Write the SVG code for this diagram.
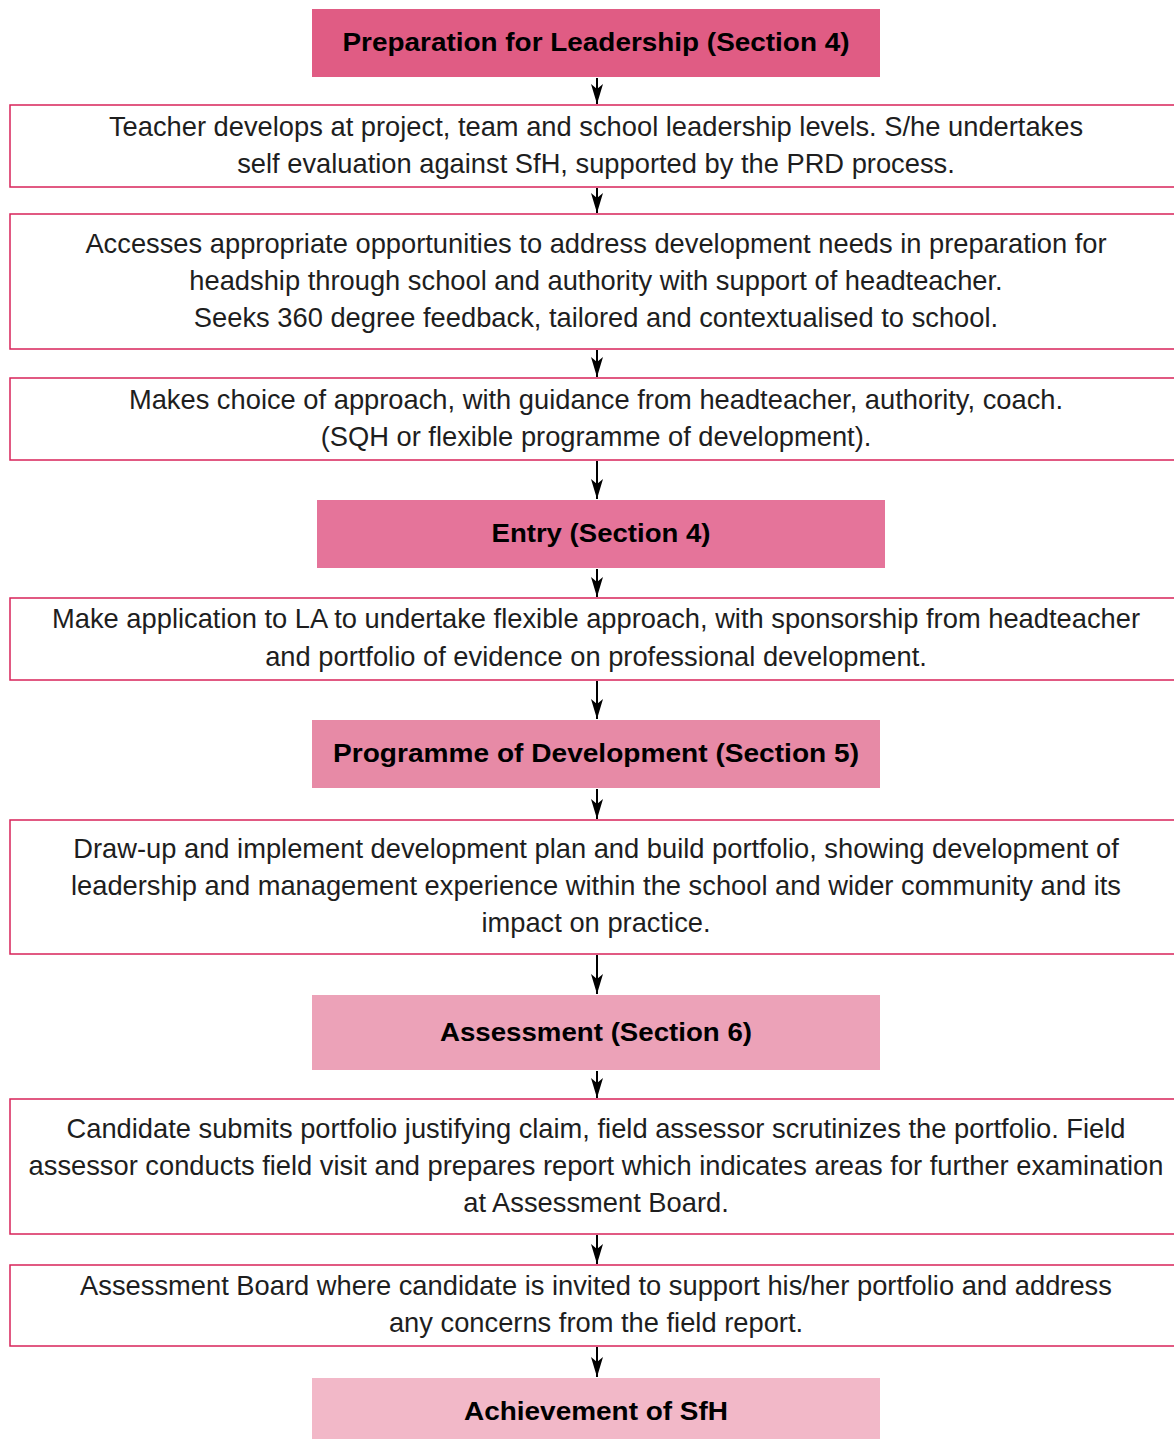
<svg xmlns="http://www.w3.org/2000/svg" width="1174" height="1439" viewBox="0 0 1174 1439">
<style>
.box{fill:#ffffff;stroke:#d8235a;stroke-width:1.5}
.t{font-family:"Liberation Sans",Arial,sans-serif;font-size:27.3px;fill:#1e1e1e;text-anchor:middle}
.h{font-family:"Liberation Sans",Arial,sans-serif;font-size:26px;font-weight:bold;fill:#000;text-anchor:middle}
.c{stroke:#000;stroke-width:2;fill:none}
</style>
<defs>
<marker id="ah" markerUnits="userSpaceOnUse" markerWidth="22" markerHeight="14" refX="20" refY="7" orient="auto" viewBox="0 0 22 14">
<path d="M0,1 L20,7 L0,13 L5,7 Z" fill="#000"/>
</marker>
</defs>
<rect width="1174" height="1439" fill="#fff"/>
<g id="connectors">
<line class="c" x1="597" y1="78" x2="597" y2="104" marker-end="url(#ah)"/>
<line class="c" x1="597" y1="188" x2="597" y2="213" marker-end="url(#ah)"/>
<line class="c" x1="597" y1="350" x2="597" y2="377" marker-end="url(#ah)"/>
<line class="c" x1="597" y1="461" x2="597" y2="499" marker-end="url(#ah)"/>
<line class="c" x1="597" y1="569" x2="597" y2="597" marker-end="url(#ah)"/>
<line class="c" x1="597" y1="681" x2="597" y2="719" marker-end="url(#ah)"/>
<line class="c" x1="597" y1="789" x2="597" y2="819" marker-end="url(#ah)"/>
<line class="c" x1="597" y1="955" x2="597" y2="994" marker-end="url(#ah)"/>
<line class="c" x1="597" y1="1071" x2="597" y2="1098" marker-end="url(#ah)"/>
<line class="c" x1="597" y1="1235" x2="597" y2="1264" marker-end="url(#ah)"/>
<line class="c" x1="597" y1="1347" x2="597" y2="1377" marker-end="url(#ah)"/>
</g>
<g id="prep">
<rect x="312" y="9" width="568" height="68" fill="#e05c84"/>
<text class="h" x="596" y="51" textLength="507" lengthAdjust="spacingAndGlyphs">Preparation for Leadership (Section 4)</text>
</g>
<g id="teacher">
<rect class="box" x="10" y="105" width="1180" height="82"/>
<text class="t" x="596" y="136">Teacher develops at project, team and school leadership levels. S/he undertakes</text>
<text class="t" x="596" y="173">self evaluation against SfH, supported by the PRD process.</text>
</g>
<g id="accesses">
<rect class="box" x="10" y="214" width="1180" height="135"/>
<text class="t" x="596" y="253">Accesses appropriate opportunities to address development needs in preparation for</text>
<text class="t" x="596" y="290">headship through school and authority with support of headteacher.</text>
<text class="t" x="596" y="327">Seeks 360 degree feedback, tailored and contextualised to school.</text>
</g>
<g id="choice">
<rect class="box" x="10" y="378" width="1180" height="82"/>
<text class="t" x="596" y="409">Makes choice of approach, with guidance from headteacher, authority, coach.</text>
<text class="t" x="596" y="446">(SQH or flexible programme of development).</text>
</g>
<g id="entry">
<rect x="317" y="500" width="568" height="68" fill="#e5749a"/>
<text class="h" x="601" y="542" textLength="219" lengthAdjust="spacingAndGlyphs">Entry (Section 4)</text>
</g>
<g id="application">
<rect class="box" x="10" y="598" width="1180" height="82"/>
<text class="t" x="596" y="628">Make application to LA to undertake flexible approach, with sponsorship from headteacher</text>
<text class="t" x="596" y="666">and portfolio of evidence on professional development.</text>
</g>
<g id="programme">
<rect x="312" y="720" width="568" height="68" fill="#e78aa6"/>
<text class="h" x="596" y="762" textLength="526" lengthAdjust="spacingAndGlyphs">Programme of Development (Section 5)</text>
</g>
<g id="drawup">
<rect class="box" x="10" y="820" width="1180" height="134"/>
<text class="t" x="596" y="858">Draw-up and implement development plan and build portfolio, showing development of</text>
<text class="t" x="596" y="895">leadership and management experience within the school and wider community and its</text>
<text class="t" x="596" y="932">impact on practice.</text>
</g>
<g id="assessment">
<rect x="312" y="995" width="568" height="75" fill="#eca2b8"/>
<text class="h" x="596" y="1041" textLength="312" lengthAdjust="spacingAndGlyphs">Assessment (Section 6)</text>
</g>
<g id="candidate">
<rect class="box" x="10" y="1099" width="1180" height="135"/>
<text class="t" x="596" y="1138">Candidate submits portfolio justifying claim, field assessor scrutinizes the portfolio. Field</text>
<text class="t" x="596" y="1175">assessor conducts field visit and prepares report which indicates areas for further examination</text>
<text class="t" x="596" y="1212">at Assessment Board.</text>
</g>
<g id="board">
<rect class="box" x="10" y="1265" width="1180" height="81"/>
<text class="t" x="596" y="1295">Assessment Board where candidate is invited to support his/her portfolio and address</text>
<text class="t" x="596" y="1332">any concerns from the field report.</text>
</g>
<g id="achievement">
<rect x="312" y="1378" width="568" height="61" fill="#f2b8c8"/>
<text class="h" x="596" y="1420" textLength="264" lengthAdjust="spacingAndGlyphs">Achievement of SfH</text>
</g>
</svg>
